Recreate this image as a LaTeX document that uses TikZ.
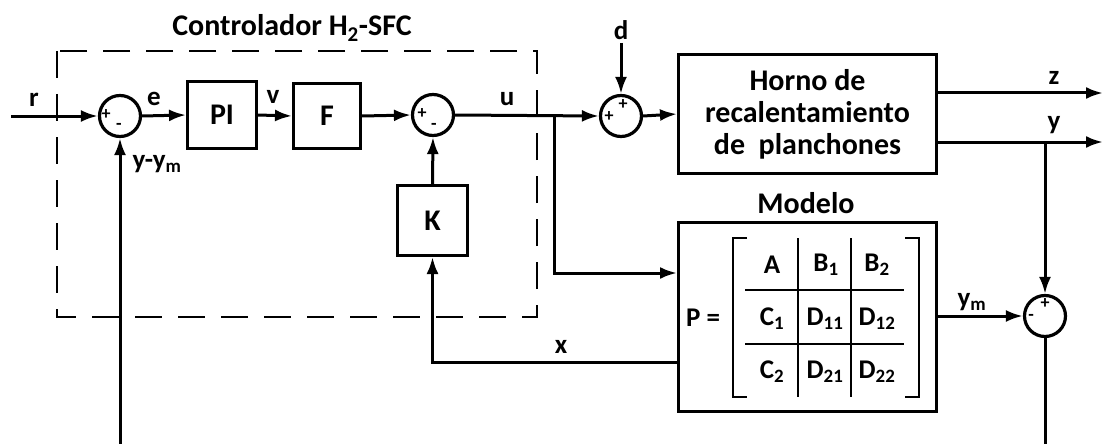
\documentclass[tikz,border=0pt]{standalone}
\usepackage{fontspec}
\setmainfont{Carlito}
\usetikzlibrary{arrows.meta}
\begin{document}
\begin{tikzpicture}[x=1pt,y=-1pt,
  line width=3pt,
  >={Latex[length=17pt,width=12pt]},
  blk/.style={draw,line width=3pt,inner sep=0pt,align=center,font=\bfseries\fontsize{30}{34}\selectfont},
  sumc/.style={draw,circle,line width=3.2pt,minimum size=41pt,inner sep=0pt},
  lbl/.style={font=\bfseries\fontsize{27}{30}\selectfont,inner sep=0pt},
  cell/.style={font=\bfseries\fontsize{27}{30}\selectfont,inner sep=0pt},
  sgn/.style={font=\bfseries\fontsize{18}{18}\selectfont,inner sep=0pt},
  dbox/.style={draw,line width=1.4pt,dash pattern=on 27pt off 16pt},
  mline/.style={line width=2.2pt}]
\useasboundingbox (0,0) rectangle (1104,444);
\fill[white] (0,0) rectangle (1104,444);

% dashed controller box
\draw[dbox] (57,51) rectangle (537,317);
\node[font=\bfseries\fontsize{30}{34}\selectfont,inner sep=0pt] (title) at (292,28) {Controlador H\textsubscript{2}-SFC};

% blocks
\node[blk,minimum width=69pt,minimum height=67pt] (PI) at (222,115) {PI};
\node[blk,minimum width=67pt,minimum height=65pt] (F) at (327,116) {F};
\node[blk,minimum width=70pt,minimum height=70pt] (K) at (432.5,220.5) {K};
\node[blk,minimum width=258pt,minimum height=119pt,font=\bfseries\fontsize{30}{32}\selectfont] (horno) at (807.5,114) {Horno de\\recalentamiento\\de\ \ planchones};
\node[blk,minimum width=258pt,minimum height=189pt] (model) at (807.5,317) {};
\node[font=\bfseries\fontsize{30}{34}\selectfont,inner sep=0pt] (modlbl) at (806,203) {Modelo};

% summing junctions
\node[sumc] (s1) at (120,116) {};
\node[sumc] (s2) at (433,115) {};
\node[sumc] (s3) at (621,116) {};
\node[sumc] (s4) at (1045,316) {};
\node[sgn] (s1p) at (106,115) {+};
\node[sgn] (s1m) at (119,126) {-};
\node[sgn] (s2p) at (422,114) {+};
\node[sgn] (s2m) at (434,126) {-};
\node[sgn] (s3p) at (609,117) {+};
\node[sgn] (s3q) at (623,105) {+};
\node[sgn] (s4p) at (1045,304) {+};
\node[sgn] (s4m) at (1031,317) {-};

% matrix P
\node[cell] (P) at (703,318) {P =};
\draw[mline] (747,238) -- (733,238) -- (733,397) -- (747,397);
\draw[mline] (905,238) -- (919,238) -- (919,397) -- (905,397);
\draw[mline] (798,238) -- (798,397);
\draw[mline] (851,238) -- (851,397);
\draw[mline] (745,290) -- (904,290);
\draw[mline] (745,344) -- (904,344);
\node[cell] (mA) at (772,265) {A};
\node[cell] (mB1) at (826,265) {B\textsubscript{1}};
\node[cell] (mB2) at (877,265) {B\textsubscript{2}};
\node[cell] (mC1) at (772,319) {C\textsubscript{1}};
\node[cell] (mD11) at (825,319) {D\textsubscript{11}};
\node[cell] (mD12) at (877,319) {D\textsubscript{12}};
\node[cell] (mC2) at (772,372) {C\textsubscript{2}};
\node[cell] (mD21) at (825,372) {D\textsubscript{21}};
\node[cell] (mD22) at (877,372) {D\textsubscript{22}};

% coordinates
\coordinate (rin) at (11,116);
\coordinate (din) at (621,43);
\coordinate (ub) at (554,116);
\coordinate (mu) at (677,273);
\coordinate (xl) at (677,362);
\coordinate (zout) at (1103,93);
\coordinate (yout) at (1103,142);
\coordinate (yb) at (1045,142);
\coordinate (fbl) at (120,444);
\coordinate (fbr) at (1045,444);

% connectors
\draw[->] (rin) -- (s1.west);
\draw[->] (s1.east) -- (PI.west);
\draw[->] (PI.east) -- (F.west);
\draw[->] (F.east) -- (s2.west);
\draw[->] (s2.east) -- (s3.west);
\draw[->] (din) -- (s3.north);
\draw[->] (s3.east) -- (horno.west);
\draw[->] (horno.east |- zout) -- (zout);
\draw[->] (horno.east |- yout) -- (yout);
\draw[->] (yb) -- (s4.north);
\draw[->] (model.east |- s4) -- (s4.west);
\draw (s4.south) -- (fbr);
\draw[->] (ub) |- (model.west |- mu);
\draw[->] (model.west |- xl) -| (K.south);
\draw[->] (K.north) -- (s2.south);
\draw[->] (fbl) -- (s1.south);

% labels
\node[lbl] (lr) at (34,100) {r};
\node[lbl] (le) at (154,99) {e};
\node[lbl] (lv) at (273,97) {v};
\node[lbl] (lu) at (507,99) {u};
\node[lbl] (ld) at (621,30) {d};
\node[lbl] (lz) at (1054,78) {z};
\node[lbl] (ly) at (1054,125) {y};
\node[lbl] (lyym) at (157,164) {y-y\textsubscript{m}};
\node[lbl] (lym) at (972,302) {y\textsubscript{m}};
\node[lbl] (lx) at (561,347) {x};
\end{tikzpicture}
\end{document}
